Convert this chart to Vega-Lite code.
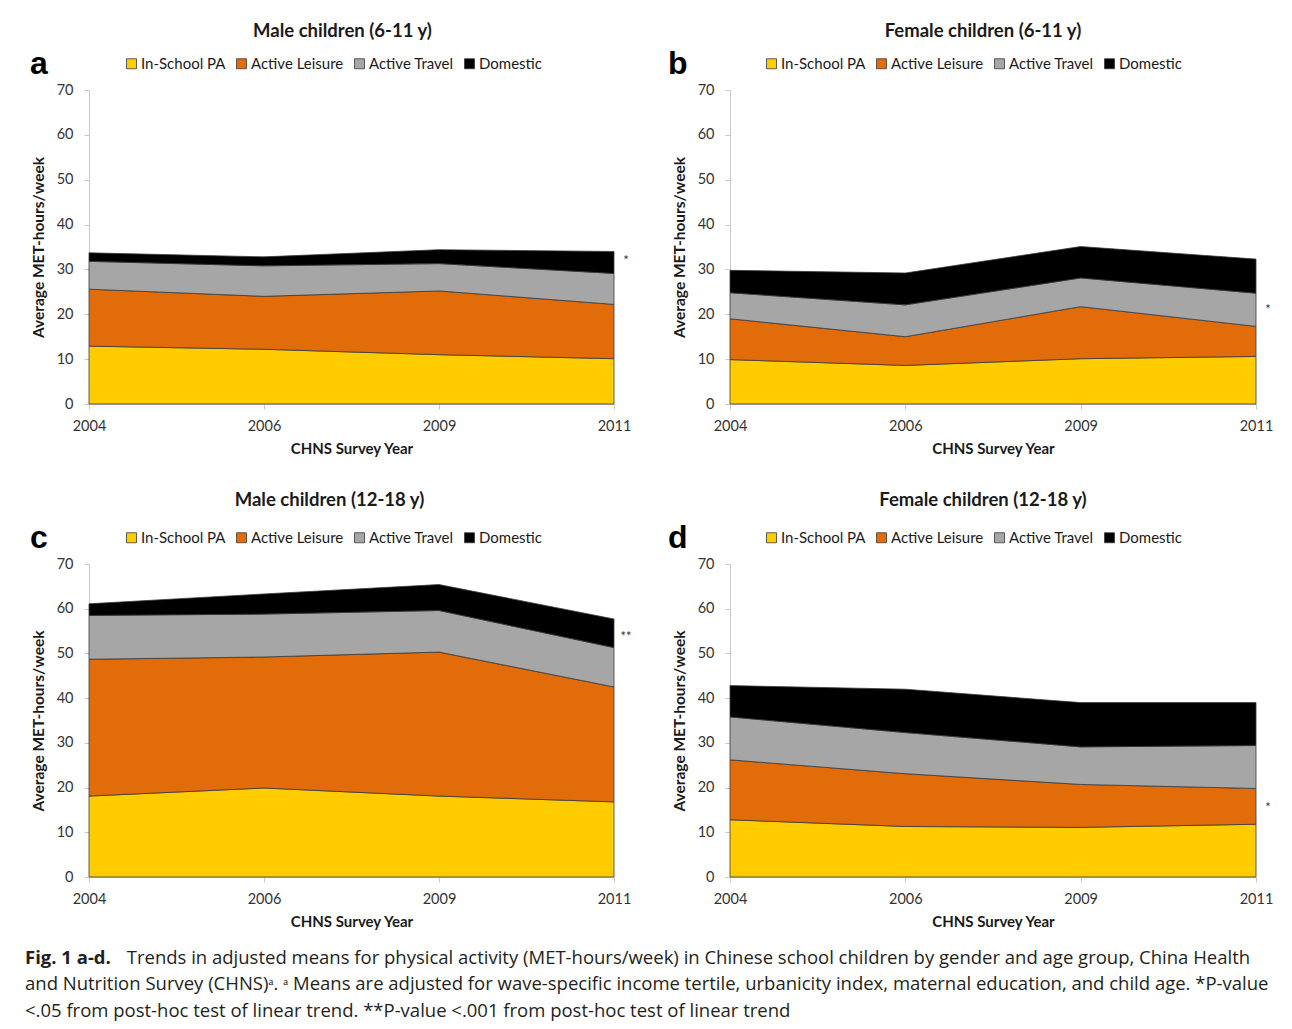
{
  "$schema": "https://vega.github.io/schema/vega-lite/v6.json",
  "background": "white",
  "padding": {"left": 25, "top": 21, "right": 10, "bottom": 8},
  "datasets": {
    "pa": [
      {"panel":"a","year":"2004","cat":"In-School PA","ord":1,"value":12.9},
      {"panel":"a","year":"2004","cat":"Active Leisure","ord":2,"value":12.7},
      {"panel":"a","year":"2004","cat":"Active Travel","ord":3,"value":6.2},
      {"panel":"a","year":"2004","cat":"Domestic","ord":4,"value":1.9},
      {"panel":"a","year":"2006","cat":"In-School PA","ord":1,"value":12.2},
      {"panel":"a","year":"2006","cat":"Active Leisure","ord":2,"value":11.8},
      {"panel":"a","year":"2006","cat":"Active Travel","ord":3,"value":6.8},
      {"panel":"a","year":"2006","cat":"Domestic","ord":4,"value":2.0},
      {"panel":"a","year":"2009","cat":"In-School PA","ord":1,"value":11.0},
      {"panel":"a","year":"2009","cat":"Active Leisure","ord":2,"value":14.2},
      {"panel":"a","year":"2009","cat":"Active Travel","ord":3,"value":6.1},
      {"panel":"a","year":"2009","cat":"Domestic","ord":4,"value":3.1},
      {"panel":"a","year":"2011","cat":"In-School PA","ord":1,"value":10.1},
      {"panel":"a","year":"2011","cat":"Active Leisure","ord":2,"value":12.1},
      {"panel":"a","year":"2011","cat":"Active Travel","ord":3,"value":6.9},
      {"panel":"a","year":"2011","cat":"Domestic","ord":4,"value":4.9},
      {"panel":"b","year":"2004","cat":"In-School PA","ord":1,"value":9.9},
      {"panel":"b","year":"2004","cat":"Active Leisure","ord":2,"value":9.1},
      {"panel":"b","year":"2004","cat":"Active Travel","ord":3,"value":5.8},
      {"panel":"b","year":"2004","cat":"Domestic","ord":4,"value":5.0},
      {"panel":"b","year":"2006","cat":"In-School PA","ord":1,"value":8.6},
      {"panel":"b","year":"2006","cat":"Active Leisure","ord":2,"value":6.4},
      {"panel":"b","year":"2006","cat":"Active Travel","ord":3,"value":7.1},
      {"panel":"b","year":"2006","cat":"Domestic","ord":4,"value":7.1},
      {"panel":"b","year":"2009","cat":"In-School PA","ord":1,"value":10.1},
      {"panel":"b","year":"2009","cat":"Active Leisure","ord":2,"value":11.6},
      {"panel":"b","year":"2009","cat":"Active Travel","ord":3,"value":6.4},
      {"panel":"b","year":"2009","cat":"Domestic","ord":4,"value":7.0},
      {"panel":"b","year":"2011","cat":"In-School PA","ord":1,"value":10.6},
      {"panel":"b","year":"2011","cat":"Active Leisure","ord":2,"value":6.7},
      {"panel":"b","year":"2011","cat":"Active Travel","ord":3,"value":7.4},
      {"panel":"b","year":"2011","cat":"Domestic","ord":4,"value":7.6},
      {"panel":"c","year":"2004","cat":"In-School PA","ord":1,"value":18.1},
      {"panel":"c","year":"2004","cat":"Active Leisure","ord":2,"value":30.6},
      {"panel":"c","year":"2004","cat":"Active Travel","ord":3,"value":9.8},
      {"panel":"c","year":"2004","cat":"Domestic","ord":4,"value":2.6},
      {"panel":"c","year":"2006","cat":"In-School PA","ord":1,"value":19.9},
      {"panel":"c","year":"2006","cat":"Active Leisure","ord":2,"value":29.3},
      {"panel":"c","year":"2006","cat":"Active Travel","ord":3,"value":9.6},
      {"panel":"c","year":"2006","cat":"Domestic","ord":4,"value":4.5},
      {"panel":"c","year":"2009","cat":"In-School PA","ord":1,"value":18.1},
      {"panel":"c","year":"2009","cat":"Active Leisure","ord":2,"value":32.2},
      {"panel":"c","year":"2009","cat":"Active Travel","ord":3,"value":9.3},
      {"panel":"c","year":"2009","cat":"Domestic","ord":4,"value":5.8},
      {"panel":"c","year":"2011","cat":"In-School PA","ord":1,"value":16.8},
      {"panel":"c","year":"2011","cat":"Active Leisure","ord":2,"value":25.7},
      {"panel":"c","year":"2011","cat":"Active Travel","ord":3,"value":8.8},
      {"panel":"c","year":"2011","cat":"Domestic","ord":4,"value":6.4},
      {"panel":"d","year":"2004","cat":"In-School PA","ord":1,"value":12.8},
      {"panel":"d","year":"2004","cat":"Active Leisure","ord":2,"value":13.4},
      {"panel":"d","year":"2004","cat":"Active Travel","ord":3,"value":9.6},
      {"panel":"d","year":"2004","cat":"Domestic","ord":4,"value":7.0},
      {"panel":"d","year":"2006","cat":"In-School PA","ord":1,"value":11.3},
      {"panel":"d","year":"2006","cat":"Active Leisure","ord":2,"value":11.8},
      {"panel":"d","year":"2006","cat":"Active Travel","ord":3,"value":9.2},
      {"panel":"d","year":"2006","cat":"Domestic","ord":4,"value":9.7},
      {"panel":"d","year":"2009","cat":"In-School PA","ord":1,"value":11.1},
      {"panel":"d","year":"2009","cat":"Active Leisure","ord":2,"value":9.6},
      {"panel":"d","year":"2009","cat":"Active Travel","ord":3,"value":8.4},
      {"panel":"d","year":"2009","cat":"Domestic","ord":4,"value":9.9},
      {"panel":"d","year":"2011","cat":"In-School PA","ord":1,"value":11.8},
      {"panel":"d","year":"2011","cat":"Active Leisure","ord":2,"value":8.0},
      {"panel":"d","year":"2011","cat":"Active Travel","ord":3,"value":9.6},
      {"panel":"d","year":"2011","cat":"Domestic","ord":4,"value":9.6}
    ],
    "ann": [
      {"panel":"a","year":"2011","value":31.9,"label":"*"},
      {"panel":"b","year":"2011","value":20.9,"label":"*"},
      {"panel":"c","year":"2011","value":53.6,"label":"**"},
      {"panel":"d","year":"2011","value":15.5,"label":"*"}
    ]
  },
  "title": {
    "text": "Fig. 1 a-d.",
    "subtitle": [
      "\u200b\u2003\u2003\u2003\u2003\u2003\u2002Trends in adjusted means for physical activity (MET-hours/week) in Chinese school children by gender and age group, China Health",
      "and Nutrition Survey (CHNS)\u1d43. \u1d43 Means are adjusted for wave-specific income tertile, urbanicity index, maternal education, and child age. *P-value",
      "<.05 from post-hoc test of linear trend. **P-value <.001 from post-hoc test of linear trend"
    ],
    "orient": "bottom",
    "anchor": "start",
    "frame": "bounds",
    "font": "Open Sans",
    "fontSize": 18.5,
    "fontWeight": "bold",
    "color": "#231f20",
    "subtitleFont": "Open Sans",
    "subtitleFontSize": 18.5,
    "subtitleFontWeight": "normal",
    "subtitleColor": "#231f20",
    "subtitlePadding": -18.5,
    "subtitleLineHeight": 26.5,
    "offset": 19,
    "dx": -5
  },
  "columns": 2,
  "spacing": {"row": 33, "column": 36},
  "resolve": {"legend": {"color": "independent"}, "scale": {"color": "independent"}},
  "concat": [
    {
      "width": 525, "height": 314,
      "title": {"text": "Male children (6-11 y)", "dx": -9, "offset": 16},
      "layer": [
        {
          "data": {"name": "pa"},
          "transform": [{"filter": "datum.panel === 'a'"}],
          "mark": {"type": "area", "stroke": "#3a3a3a", "strokeWidth": 0.8, "opacity": 1},
          "encoding": {
            "x": {"field": "year", "type": "ordinal", "scale": {"type": "point", "padding": 0}, "axis": {"title": "CHNS Survey Year", "labelAngle": 0}},
            "y": {"field": "value", "type": "quantitative", "stack": "zero", "scale": {"domain": [0, 70], "nice": false}, "axis": {"title": "Average MET-hours/week", "values": [0,10,20,30,40,50,60,70]}},
            "color": {"field": "cat", "type": "nominal", "scale": {"domain": ["In-School PA","Active Leisure","Active Travel","Domestic"], "range": ["#FFCC00","#E36C0A","#A6A6A6","#000000"]}, "legend": {"title": "a", "orient": "none", "legendX": -59, "legendY": -34, "direction": "horizontal", "titleOrient": "left"}},
            "order": {"field": "ord", "type": "quantitative"}
          }
        },
        {
          "data": {"name": "ann"},
          "transform": [{"filter": "datum.panel === 'a'"}],
          "mark": {"type": "text", "dx": 12, "baseline": "middle", "fontSize": 13, "color": "#333333"},
          "encoding": {"x": {"field": "year", "type": "ordinal"}, "y": {"field": "value", "type": "quantitative"}, "text": {"field": "label"}}
        }
      ]
    },
    {
      "width": 526, "height": 314,
      "title": {"text": "Female children (6-11 y)", "dx": -10, "offset": 16},
      "layer": [
        {
          "data": {"name": "pa"},
          "transform": [{"filter": "datum.panel === 'b'"}],
          "mark": {"type": "area", "stroke": "#3a3a3a", "strokeWidth": 0.8, "opacity": 1},
          "encoding": {
            "x": {"field": "year", "type": "ordinal", "scale": {"type": "point", "padding": 0}, "axis": {"title": "CHNS Survey Year", "labelAngle": 0}},
            "y": {"field": "value", "type": "quantitative", "stack": "zero", "scale": {"domain": [0, 70], "nice": false}, "axis": {"title": "Average MET-hours/week", "values": [0,10,20,30,40,50,60,70]}},
            "color": {"field": "cat", "type": "nominal", "scale": {"domain": ["In-School PA","Active Leisure","Active Travel","Domestic"], "range": ["#FFCC00","#E36C0A","#A6A6A6","#000000"]}, "legend": {"title": "b", "orient": "none", "legendX": -62, "legendY": -34, "direction": "horizontal", "titleOrient": "left"}},
            "order": {"field": "ord", "type": "quantitative"}
          }
        },
        {
          "data": {"name": "ann"},
          "transform": [{"filter": "datum.panel === 'b'"}],
          "mark": {"type": "text", "dx": 12, "baseline": "middle", "fontSize": 13, "color": "#333333"},
          "encoding": {"x": {"field": "year", "type": "ordinal"}, "y": {"field": "value", "type": "quantitative"}, "text": {"field": "label"}}
        }
      ]
    },
    {
      "width": 525, "height": 313,
      "title": {"text": "Male children (12-18 y)", "dx": -22, "offset": 21},
      "layer": [
        {
          "data": {"name": "pa"},
          "transform": [{"filter": "datum.panel === 'c'"}],
          "mark": {"type": "area", "stroke": "#3a3a3a", "strokeWidth": 0.8, "opacity": 1},
          "encoding": {
            "x": {"field": "year", "type": "ordinal", "scale": {"type": "point", "padding": 0}, "axis": {"title": "CHNS Survey Year", "labelAngle": 0}},
            "y": {"field": "value", "type": "quantitative", "stack": "zero", "scale": {"domain": [0, 70], "nice": false}, "axis": {"title": "Average MET-hours/week", "values": [0,10,20,30,40,50,60,70]}},
            "color": {"field": "cat", "type": "nominal", "scale": {"domain": ["In-School PA","Active Leisure","Active Travel","Domestic"], "range": ["#FFCC00","#E36C0A","#A6A6A6","#000000"]}, "legend": {"title": "c", "orient": "none", "legendX": -59, "legendY": -34, "direction": "horizontal", "titleOrient": "left"}},
            "order": {"field": "ord", "type": "quantitative"}
          }
        },
        {
          "data": {"name": "ann"},
          "transform": [{"filter": "datum.panel === 'c'"}],
          "mark": {"type": "text", "dx": 12, "baseline": "middle", "fontSize": 13, "color": "#333333"},
          "encoding": {"x": {"field": "year", "type": "ordinal"}, "y": {"field": "value", "type": "quantitative"}, "text": {"field": "label"}}
        }
      ]
    },
    {
      "width": 526, "height": 313,
      "title": {"text": "Female children (12-18 y)", "dx": -10, "offset": 21},
      "layer": [
        {
          "data": {"name": "pa"},
          "transform": [{"filter": "datum.panel === 'd'"}],
          "mark": {"type": "area", "stroke": "#3a3a3a", "strokeWidth": 0.8, "opacity": 1},
          "encoding": {
            "x": {"field": "year", "type": "ordinal", "scale": {"type": "point", "padding": 0}, "axis": {"title": "CHNS Survey Year", "labelAngle": 0}},
            "y": {"field": "value", "type": "quantitative", "stack": "zero", "scale": {"domain": [0, 70], "nice": false}, "axis": {"title": "Average MET-hours/week", "values": [0,10,20,30,40,50,60,70]}},
            "color": {"field": "cat", "type": "nominal", "scale": {"domain": ["In-School PA","Active Leisure","Active Travel","Domestic"], "range": ["#FFCC00","#E36C0A","#A6A6A6","#000000"]}, "legend": {"title": "d", "orient": "none", "legendX": -62, "legendY": -34, "direction": "horizontal", "titleOrient": "left"}},
            "order": {"field": "ord", "type": "quantitative"}
          }
        },
        {
          "data": {"name": "ann"},
          "transform": [{"filter": "datum.panel === 'd'"}],
          "mark": {"type": "text", "dx": 12, "baseline": "middle", "fontSize": 13, "color": "#333333"},
          "encoding": {"x": {"field": "year", "type": "ordinal"}, "y": {"field": "value", "type": "quantitative"}, "text": {"field": "label"}}
        }
      ]
    }
  ],
  "config": {
    "font": "Lato",
    "view": {"stroke": null},
    "axis": {
      "grid": false,
      "domainColor": "#c8c8c8",
      "tickColor": "#c8c8c8",
      "tickSize": 5,
      "labelFont": "Lato",
      "labelFontSize": 14.5,
      "labelColor": "#333333",
      "titleFont": "Lato",
      "titleFontSize": 15,
      "titleFontWeight": "bold",
      "titleColor": "#1a1a1a"
    },
    "axisY": {"labelPadding": 11, "titlePadding": 10, "titleFontSize": 15.5},
    "axisX": {"labelPadding": 10, "titlePadding": 9},
    "legend": {
      "symbolType": "square",
      "symbolSize": 100,
      "symbolStrokeWidth": 0.8,
      "labelFont": "Lato",
      "labelFontSize": 15,
      "labelColor": "#1a1a1a",
      "labelOffset": 2,
      "columnPadding": 8,
      "titleFont": "Liberation Sans",
      "titleFontSize": 32,
      "titleFontWeight": "bold",
      "titleColor": "#000000",
      "titlePadding": 76
    },
    "title": {
      "font": "Lato",
      "fontSize": 18.5,
      "fontWeight": "bold",
      "color": "#1a1a1a",
      "anchor": "middle",
      "frame": "group"
    }
  }
}
